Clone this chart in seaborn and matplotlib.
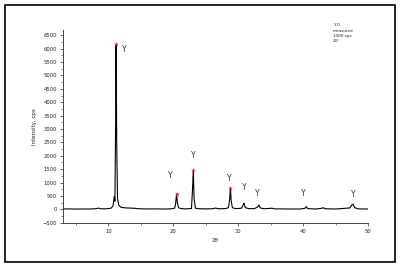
import numpy as np
import pandas as pd
import matplotlib
matplotlib.use("Agg")
import matplotlib.pyplot as plt
import seaborn as sns
from matplotlib.patches import Rectangle
from matplotlib.ticker import MultipleLocator

# ─── Data ───────────────────────────────────────────────────────────────────
two_theta = [3.0, 4.0, 5.0, 6.0, 7.0, 8.0, 8.5, 8.8, 9.5, 10.0, 10.4, 10.7,
             10.9, 11.0, 11.1, 11.18, 11.28, 11.4, 11.6, 11.9, 12.3, 12.8,
             13.3, 13.8, 14.2, 14.6, 15.5, 16.5, 17.5, 18.5, 19.5, 20.2,
             20.35, 20.5, 20.62, 20.8, 21.2, 22.0, 22.8, 22.95, 23.08, 23.2,
             23.4, 24.0, 25.0, 26.0, 26.5, 27.0, 28.0, 28.5, 28.7, 28.8,
             28.9, 29.1, 29.6, 30.5, 30.8, 30.9, 31.1, 31.6, 32.5, 33.0,
             33.2, 33.4, 34.0, 35.2, 35.6, 36.5, 38.0, 39.5, 40.3, 40.5,
             40.7, 42.0, 42.9, 43.1, 43.4, 45.0, 47.2, 47.5, 47.7, 47.95,
             48.5, 50.0]
intensity = [10, 15, 8, 12, 10, 20, 45, 20, 15, 30, 40, 120,
             480, 300, 2900, 6160, 2400, 400, 150, 80, 60, 50,
             45, 40, 35, 20, 15, 12, 15, 10, 15, 40,
             200, 575, 250, 60, 25, 15, 30, 700, 1460, 400,
             40, 20, 15, 20, 45, 20, 25, 60, 420, 810,
             350, 60, 25, 40, 180, 225, 60, 25, 25, 90,
             160, 50, 20, 40, 15, 15, 10, 10, 40, 100,
             25, 10, 40, 60, 20, 10, 50, 160, 190, 60,
             15, 10]

# marked peak tops (red stars)
star_x = [11.18, 20.5, 23.08, 28.8]
star_y = [6160, 575, 1460, 810]

# phase labels "Y"
label_x = [12.4, 19.6, 23.0, 28.6, 31.0, 32.9, 40.0, 47.7]
label_y = [5950, 1260, 2010, 1140, 820, 580, 600, 540]

legend_lines = ["Y-O", "measured", "1000 cps", "20\u00b0"]

df = pd.DataFrame({"two_theta": two_theta, "intensity": intensity})
stars = pd.DataFrame({"x": star_x, "y": star_y})

# ─── Plot ───────────────────────────────────────────────────────────────────
sns.set_style("ticks")
plt.rcParams["font.family"] = ["DejaVu Sans"]

fig = plt.figure(figsize=(4.0, 2.67), dpi=100)
ax = fig.add_axes([0.1575, 0.166, 0.7625, 0.722])

sns.lineplot(data=df, x="two_theta", y="intensity", ax=ax,
             color="black", linewidth=0.8, estimator=None, sort=False)
sns.scatterplot(data=stars, x="x", y="y", ax=ax, marker="*",
                color="#e8303a", s=14, linewidth=0, zorder=5)

for lx, ly in zip(label_x, label_y):
    ax.text(lx, ly, "Y", fontsize=5.5, color="#333333", ha="center", va="center")

ax.set_xlim(3, 50)
ax.set_ylim(-500, 6700)
ax.xaxis.set_major_locator(MultipleLocator(10))
ax.xaxis.set_minor_locator(MultipleLocator(5))
ax.yaxis.set_major_locator(MultipleLocator(500))
ax.yaxis.set_minor_locator(MultipleLocator(250))
ax.tick_params(which="major", length=2.5, width=0.5, labelsize=3.8, pad=2)
ax.tick_params(which="minor", length=1.5, width=0.4)
ax.set_xlabel("2\u03b8", fontsize=4, labelpad=3)
ax.set_ylabel("Intensity, cps", fontsize=4, labelpad=4)
for s in ["left", "bottom"]:
    ax.spines[s].set_linewidth(0.6)
sns.despine(ax=ax)

for i, t in enumerate(legend_lines):
    fig.text(0.832, 0.905 - i * 0.02, t, fontsize=3, va="center", ha="left")

fig.patches.append(Rectangle((0.0125, 0.018), 0.975, 0.962, transform=fig.transFigure,
                             fill=False, edgecolor="black", linewidth=1.2))

fig.savefig("out.png", dpi=100, facecolor="white")
